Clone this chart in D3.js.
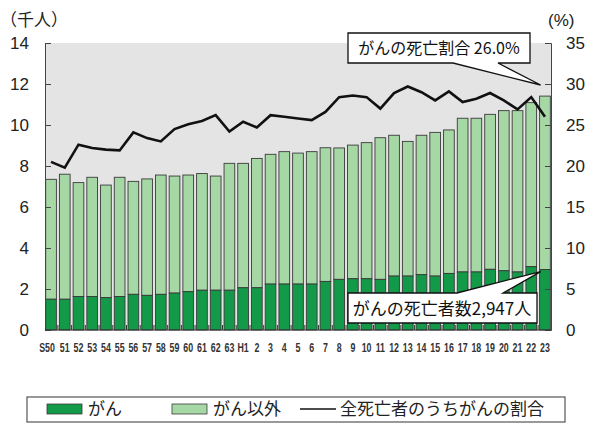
<!DOCTYPE html>
<html>
<head>
<meta charset="utf-8">
<script src="https://cdn.jsdelivr.net/npm/d3@7"></script>
<style>
  body { margin: 0; background: #fff; }
  svg { display: block; font-family: "Liberation Sans", Arial, sans-serif; }
  .jp { font-family: "Noto Sans CJK JP", sans-serif; }
</style>
</head>
<body>
<div id="chart"></div>
<script>
// Data
const years = ['S50', '51', '52', '53', '54', '55', '56', '57', '58', '59', '60', '61', '62', '63',
  'H1', '2', '3', '4', '5', '6', '7', '8', '9', '10', '11', '12', '13', '14', '15', '16', '17',
  '18', '19', '20', '21', '22', '23']
// deaths, thousand persons
const totalDeaths = [7.35, 7.6, 7.19, 7.45, 7.07, 7.45, 7.25, 7.37, 7.56, 7.51, 7.56, 7.63, 7.51, 8.13,
  8.13, 8.37, 8.57, 8.7, 8.63, 8.7, 8.89, 8.88, 9.02, 9.14, 9.38, 9.5, 9.2, 9.5, 9.64, 9.76, 10.33,
  10.33, 10.52, 10.7, 10.7, 11.09, 11.41]
const cancerDeaths = [1.5, 1.5, 1.63, 1.63, 1.58, 1.63, 1.74, 1.69, 1.74, 1.8, 1.87, 1.94, 1.94, 1.94,
  2.06, 2.06, 2.24, 2.24, 2.24, 2.24, 2.37, 2.47, 2.5, 2.5, 2.47, 2.63, 2.63, 2.7, 2.63, 2.76, 2.83,
  2.83, 2.96, 2.89, 2.83, 3.09, 2.947]
// share of cancer among all deaths, %
const cancerShare = [20.5, 19.8, 22.6, 22.2, 22.0, 21.9, 24.1, 23.4, 23.0, 24.5, 25.1, 25.5, 26.2, 24.2,
  25.4, 24.7, 26.2, 26.0, 25.8, 25.6, 26.6, 28.4, 28.6, 28.4, 27.0, 28.9, 29.7, 29.0, 28.0, 29.1, 27.8,
  28.2, 28.9, 28.0, 26.9, 28.4, 26.0]
const leftTicks = [0, 2, 4, 6, 8, 10, 12, 14]
const rightTicks = [0, 5, 10, 15, 20, 25, 30, 35]

const width = 592
const height = 425
const plot = { left: 45, right: 551, top: 43, bottom: 330 }

const darkGreen = '#139a48'
const lightGreen = '#a6d8a6'

const svg = d3.select('#chart').append('svg')
  .attr('width', width)
  .attr('height', height)

// title (cut off at the top of the picture, as in the source)
svg.append('text')
  .attr('class', 'jp')
  .attr('x', 305).attr('y', -3)
  .attr('text-anchor', 'middle')
  .attr('font-size', 24).attr('font-weight', 'bold')
  .text('図　がんによる死亡者数の推移')

// Scales
const x = d3.scaleBand()
  .domain(d3.range(years.length))
  .range([plot.left, plot.right])
  .paddingInner(0.22)
  .paddingOuter(0.05)

const y = d3.scaleLinear().domain([0, 14]).range([plot.bottom, plot.top])
const yR = d3.scaleLinear().domain([0, 35]).range([plot.bottom, plot.top])

// plot background
svg.append('rect')
  .attr('x', plot.left).attr('y', plot.top)
  .attr('width', plot.right - plot.left).attr('height', plot.bottom - plot.top)
  .attr('fill', '#e4e4e4')

// Bars
const bars = svg.append('g').attr('stroke', '#3a3a3a').attr('stroke-width', 0.9)
bars.selectAll('rect.other')
  .data(totalDeaths)
  .join('rect')
  .attr('class', 'other')
  .attr('x', (d, i) => x(i))
  .attr('width', x.bandwidth())
  .attr('y', (d) => y(d))
  .attr('height', (d, i) => y(cancerDeaths[i]) - y(d))
  .attr('fill', lightGreen)
bars.selectAll('rect.cancer')
  .data(cancerDeaths)
  .join('rect')
  .attr('class', 'cancer')
  .attr('x', (d, i) => x(i))
  .attr('width', x.bandwidth())
  .attr('y', (d) => y(d))
  .attr('height', (d) => y(0) - y(d))
  .attr('fill', darkGreen)

// Axes
const yAxis = d3.axisRight(y).tickValues(leftTicks).tickSize(6).tickFormat('')
svg.append('g')
  .attr('transform', `translate(${plot.left},0)`)
  .call(yAxis)
  .call((g) => g.select('.domain').attr('stroke', '#444'))
  .call((g) => g.selectAll('.tick line').attr('stroke', '#444'))

const yAxisR = d3.axisLeft(yR).tickValues(rightTicks).tickSize(6).tickFormat('')
svg.append('g')
  .attr('transform', `translate(${plot.right},0)`)
  .call(yAxisR)
  .call((g) => g.select('.domain').attr('stroke', '#444'))
  .call((g) => g.selectAll('.tick line').attr('stroke', '#444'))

// baseline and category ticks
svg.append('line')
  .attr('x1', plot.left).attr('x2', plot.right)
  .attr('y1', y(0)).attr('y2', y(0))
  .attr('stroke', '#333')
svg.append('g').selectAll('line')
  .data(d3.range(1, years.length))
  .join('line')
  .attr('x1', (i) => x(i) - x.step() * x.paddingInner() / 2)
  .attr('x2', (i) => x(i) - x.step() * x.paddingInner() / 2)
  .attr('y1', y(0)).attr('y2', y(0) - 5)
  .attr('stroke', '#333')

// tick labels
svg.append('g').selectAll('text')
  .data(leftTicks)
  .join('text')
  .attr('x', 29).attr('y', (d) => y(d))
  .attr('dy', '0.36em')
  .attr('text-anchor', 'end')
  .attr('font-size', 17)
  .attr('fill', '#222')
  .text((d) => d)

svg.append('g').selectAll('text')
  .data(rightTicks)
  .join('text')
  .attr('x', 566).attr('y', (d) => yR(d))
  .attr('dy', '0.36em')
  .attr('font-size', 17)
  .attr('fill', '#222')
  .text((d) => d)

svg.append('g').selectAll('text')
  .data(years)
  .join('text')
  .attr('transform', (d, i) => `translate(${x(i) + x.bandwidth() / 2 - (i === 0 ? 4 : 0)},351.5) scale(0.68,1)`)
  .attr('text-anchor', 'middle')
  .attr('font-size', 13)
  .attr('font-weight', 'bold')
  .attr('fill', '#333')
  .text((d) => d)

// unit labels
svg.append('text').attr('class', 'jp')
  .attr('x', 0).attr('y', 26)
  .attr('font-size', 17).attr('fill', '#222')
  .text('（千人）')
svg.append('text')
  .attr('x', 548).attr('y', 26)
  .attr('font-size', 17).attr('fill', '#222')
  .text('(%)')

// Line
const line = d3.line()
  .x((d, i) => x(i) + x.bandwidth() / 2)
  .y((d) => yR(d))
svg.append('path')
  .datum(cancerShare)
  .attr('d', line)
  .attr('fill', 'none')
  .attr('stroke', '#111')
  .attr('stroke-width', 2.6)
  .attr('stroke-linejoin', 'miter')

// Callouts
const last = years.length - 1
const tipX = x(last) + 1
const callout1 = `M348,33 H530 V63 H498 L${tipX},85 L453,63 H348 Z`
svg.append('path')
  .attr('d', callout1)
  .attr('fill', '#fff').attr('stroke', '#111').attr('stroke-width', 1.3)
svg.append('text').attr('class', 'jp')
  .attr('x', 439).attr('y', 54)
  .attr('text-anchor', 'middle')
  .attr('font-size', 16).attr('fill', '#111')
  .text(`がんの死亡割合 ${cancerShare[last].toFixed(1)}%`)

const tipY = y(cancerDeaths[last]) + 2
const callout2 = `M348,293 H457 L${tipX},${tipY} L503,293 H537 V323 H348 Z`
svg.append('path')
  .attr('d', callout2)
  .attr('fill', '#fff').attr('stroke', '#111').attr('stroke-width', 1.3)
svg.append('text').attr('class', 'jp')
  .attr('x', 442).attr('y', 315)
  .attr('text-anchor', 'middle')
  .attr('font-size', 17).attr('fill', '#111')
  .text(`がんの死亡者数${d3.format(',')(Math.round(cancerDeaths[last] * 1000))}人`)

// Legend
const legend = svg.append('g')
legend.append('rect')
  .attr('x', 27).attr('y', 397).attr('width', 538).attr('height', 25)
  .attr('fill', '#fff').attr('stroke', '#555').attr('stroke-width', 1.2)
legend.append('rect')
  .attr('x', 47).attr('y', 404).attr('width', 35).attr('height', 10)
  .attr('fill', darkGreen).attr('stroke', '#3a3a3a').attr('stroke-width', 0.8)
legend.append('text').attr('class', 'jp')
  .attr('x', 88).attr('y', 415).attr('font-size', 17).attr('fill', '#222')
  .text('がん')
legend.append('rect')
  .attr('x', 172).attr('y', 404).attr('width', 35).attr('height', 10)
  .attr('fill', lightGreen).attr('stroke', '#3a3a3a').attr('stroke-width', 0.8)
legend.append('text').attr('class', 'jp')
  .attr('x', 213).attr('y', 415).attr('font-size', 17).attr('fill', '#222')
  .text('がん以外')
legend.append('line')
  .attr('x1', 300).attr('x2', 336).attr('y1', 409).attr('y2', 409)
  .attr('stroke', '#111').attr('stroke-width', 1.5)
legend.append('text').attr('class', 'jp')
  .attr('x', 340).attr('y', 415).attr('font-size', 17).attr('fill', '#222')
  .text('全死亡者のうちがんの割合')
</script>
</body>
</html>
